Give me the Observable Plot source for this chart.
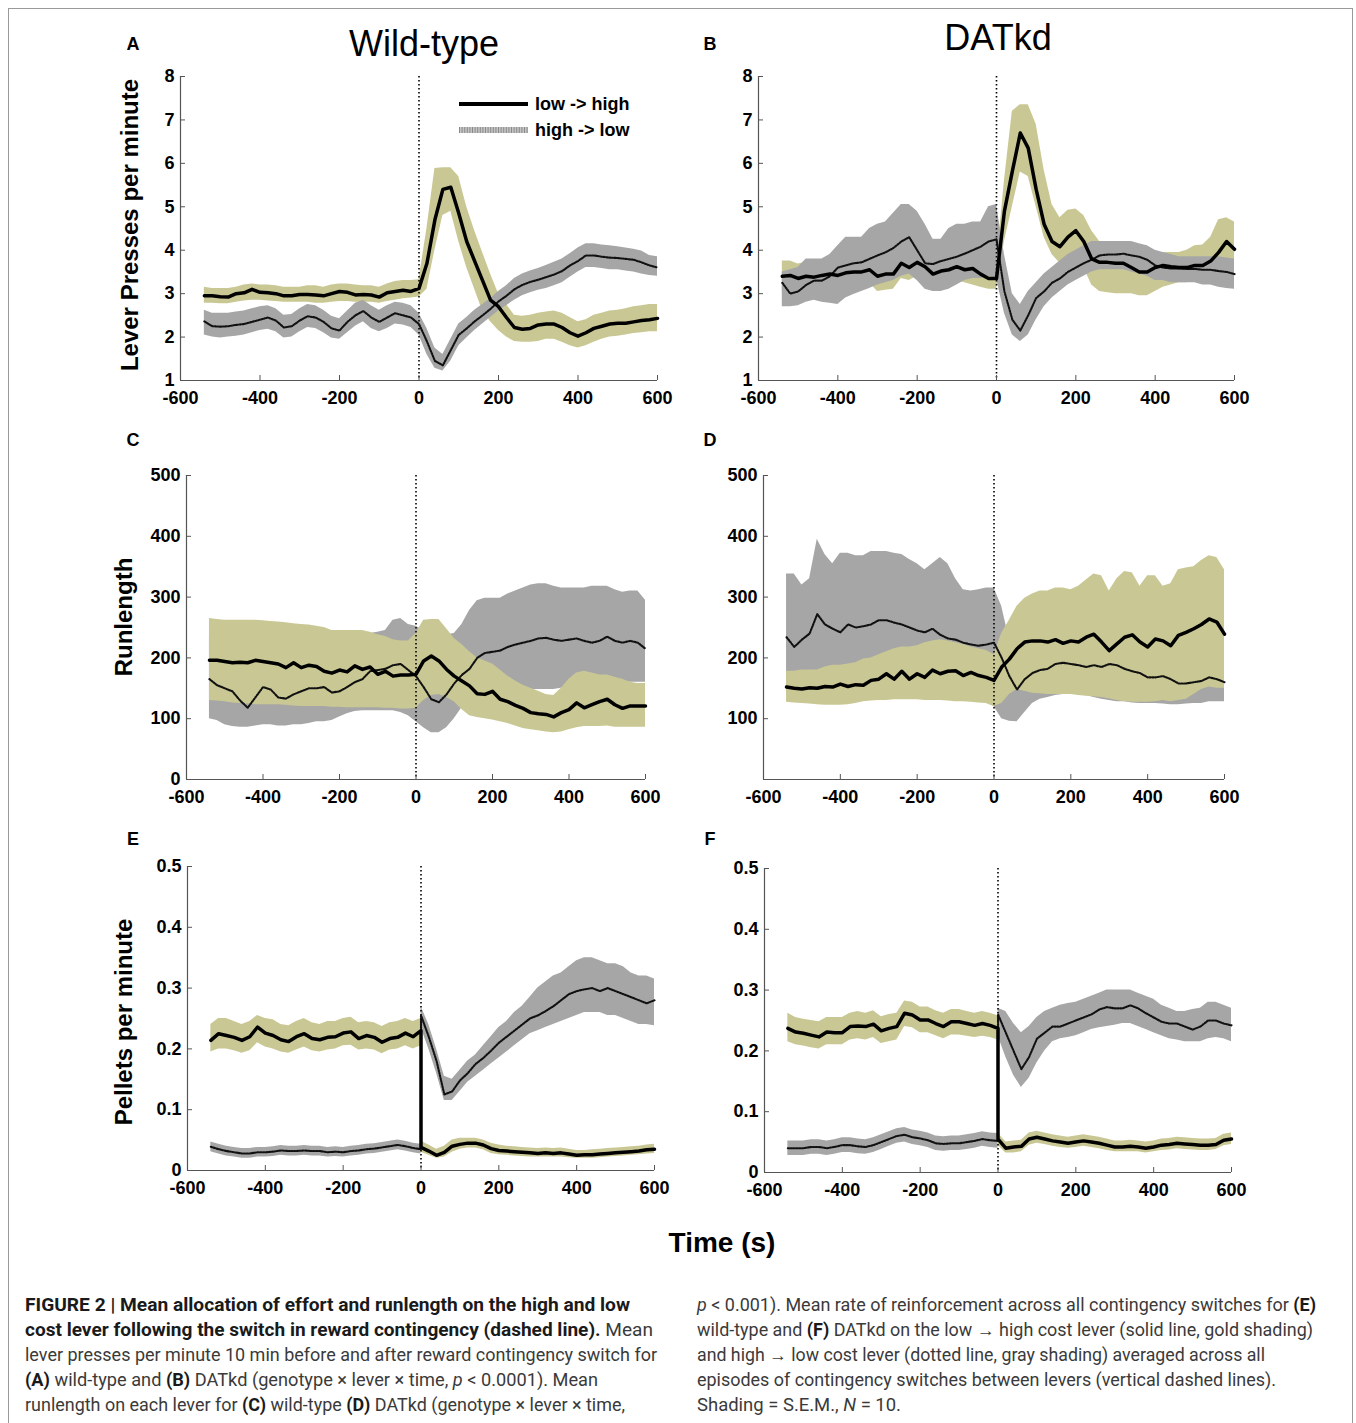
<!DOCTYPE html>
<html><head><meta charset="utf-8">
<script src="https://cdn.jsdelivr.net/npm/d3@7"></script>
<script src="https://cdn.jsdelivr.net/npm/@observablehq/plot@0.6"></script>
<style>
body{margin:0;background:#fff;}
#page{position:relative;width:1356px;height:1423px;overflow:hidden;font-family:"Liberation Sans",Arial,sans-serif;color:#000;}
.frame{position:absolute;left:8px;top:8px;width:1343px;height:1460px;border:1px solid #9a9a9a;}
.t{position:absolute;white-space:nowrap;transform:translate(-50%,-50%);line-height:1;}
.letter{font-weight:bold;font-size:18px;}
.ylab{font-weight:bold;font-size:24px;transform:translate(-50%,-50%) rotate(-90deg);}
</style></head><body><div id="page"><div class="frame"></div></div>
<script>
// ---------- time grids (s) ----------
const T = [-540,-520,-500,-480,-460,-440,-420,-400,-380,-360,
 -340,-320,-300,-280,-260,-240,-220,-200,-180,-160,
 -140,-120,-100,-80,-60,-40,-20,0,20,40,
 60,80,100,120,140,160,180,200,220,240,
 260,280,300,320,340,360,380,400,420,440,
 460,480,500,520,540,560,580,600];
// E/F: 0 appears twice (value just before / just after the switch)
const TEF = [-540,-520,-500,-480,-460,-440,-420,-400,-380,-360,
 -340,-320,-300,-280,-260,-240,-220,-200,-180,-160,
 -140,-120,-100,-80,-60,-40,-20,0,0,20,40,
 60,80,100,120,140,160,180,200,220,240,
 260,280,300,320,340,360,380,400,420,440,
 460,480,500,520,540,560,580,600];
const xTicks = [-600,-400,-200,0,200,400,600];

// ---------- A: Wild-type lever presses ----------
const aLH = [2.95,2.95,2.93,2.92,3.0,3.02,3.1,3.03,3.02,3.0,
 2.95,2.95,2.98,2.98,2.97,2.95,3.0,3.05,3.03,2.97,
 2.98,2.97,2.92,3.02,3.05,3.08,3.05,3.12,3.7,4.7,
 5.4,5.45,4.85,4.2,3.75,3.3,2.85,2.7,2.45,2.22,
 2.18,2.2,2.28,2.3,2.3,2.22,2.1,2.02,2.1,2.2,
 2.25,2.3,2.32,2.32,2.35,2.38,2.4,2.43];
const aLHlo = [2.78,2.78,2.77,2.77,2.8,2.83,2.85,2.85,2.83,2.82,
 2.8,2.8,2.8,2.8,2.78,2.78,2.8,2.82,2.82,2.8,
 2.8,2.8,2.78,2.82,2.85,2.88,2.9,2.92,3.1,4.0,
 4.8,4.9,4.2,3.6,3.1,2.6,2.35,2.15,2.0,1.9,
 1.88,1.88,1.9,1.95,1.95,1.88,1.8,1.75,1.8,1.88,
 1.95,2.0,2.02,2.05,2.08,2.1,2.12,2.12];
const aLHhi = [3.15,3.12,3.12,3.12,3.15,3.2,3.22,3.2,3.2,3.18,
 3.15,3.15,3.15,3.18,3.18,3.15,3.2,3.22,3.22,3.2,
 3.18,3.18,3.15,3.22,3.28,3.3,3.3,3.32,4.5,5.88,
 5.9,5.9,5.7,5.0,4.45,3.95,3.45,3.0,2.75,2.5,
 2.48,2.5,2.55,2.58,2.6,2.55,2.45,2.35,2.4,2.5,
 2.55,2.6,2.62,2.65,2.7,2.72,2.75,2.75];
const aHL = [2.36,2.25,2.24,2.25,2.28,2.3,2.35,2.4,2.45,2.38,
 2.22,2.25,2.38,2.48,2.45,2.35,2.2,2.15,2.35,2.5,
 2.6,2.45,2.35,2.45,2.55,2.5,2.45,2.3,1.9,1.45,
 1.35,1.7,2.05,2.2,2.36,2.5,2.65,2.82,2.95,3.1,
 3.2,3.27,3.32,3.38,3.44,3.52,3.65,3.75,3.88,3.88,
 3.85,3.83,3.82,3.8,3.78,3.72,3.65,3.6];
const aHLlo = [2.05,2.0,1.98,2.0,2.02,2.05,2.1,2.15,2.18,2.12,
 1.98,2.0,2.12,2.22,2.2,2.1,1.98,1.95,2.1,2.25,
 2.35,2.2,2.12,2.2,2.3,2.28,2.22,2.05,1.6,1.28,
 1.22,1.45,1.8,1.98,2.15,2.3,2.45,2.6,2.72,2.85,
 2.95,3.02,3.08,3.12,3.18,3.25,3.38,3.5,3.6,3.6,
 3.58,3.55,3.55,3.52,3.5,3.45,3.42,3.4];
const aHLhi = [2.62,2.55,2.55,2.55,2.58,2.6,2.65,2.7,2.72,2.65,
 2.5,2.52,2.65,2.75,2.72,2.62,2.48,2.42,2.6,2.78,
 2.85,2.72,2.62,2.72,2.8,2.78,2.72,2.55,2.2,1.75,
 1.6,1.95,2.3,2.45,2.62,2.75,2.88,3.05,3.18,3.35,
 3.45,3.52,3.58,3.65,3.72,3.8,3.92,4.05,4.15,4.15,
 4.12,4.1,4.08,4.05,4.02,3.98,3.88,3.85];

// ---------- B: DATkd lever presses ----------
const bLH = [3.4,3.42,3.35,3.4,3.38,3.42,3.45,3.42,3.48,3.5,
 3.5,3.55,3.4,3.45,3.45,3.7,3.6,3.72,3.62,3.45,
 3.52,3.55,3.62,3.55,3.58,3.45,3.35,3.35,4.9,5.82,
 6.7,6.35,5.4,4.6,4.2,4.08,4.3,4.45,4.2,3.8,
 3.72,3.72,3.7,3.7,3.6,3.5,3.5,3.6,3.65,3.62,
 3.6,3.6,3.65,3.65,3.75,3.95,4.2,4.02];
const bLHlo = [3.05,3.12,3.05,3.1,3.1,3.12,3.15,3.12,3.18,3.2,
 3.2,3.25,3.05,3.08,3.1,3.35,3.3,3.4,3.32,3.15,
 3.2,3.25,3.3,3.25,3.2,3.15,3.1,3.1,4.2,5.0,
 5.8,5.7,5.0,4.3,3.9,3.7,3.85,3.95,3.6,3.2,
 3.05,3.02,3.0,3.0,3.0,2.95,2.95,3.05,3.15,3.2,
 3.25,3.25,3.3,3.3,3.4,3.55,3.7,3.6];
const bLHhi = [3.75,3.75,3.68,3.72,3.7,3.72,3.75,3.72,3.78,3.8,
 3.82,3.88,3.75,3.8,3.8,4.05,3.95,4.05,3.95,3.78,
 3.85,3.88,3.95,3.88,3.9,3.78,3.65,3.65,5.6,7.2,
 7.35,7.35,6.9,5.85,5.05,4.75,4.92,4.95,4.8,4.45,
 4.2,4.05,4.0,4.0,4.0,4.0,3.98,3.95,3.95,3.95,
 3.95,4.0,4.1,4.12,4.3,4.7,4.75,4.65];
const bHL = [3.25,3.0,3.05,3.2,3.3,3.3,3.4,3.6,3.65,3.7,
 3.72,3.8,3.88,3.95,4.05,4.2,4.3,4.0,3.7,3.68,
 3.75,3.8,3.85,3.92,4.0,4.08,4.2,4.25,3.05,2.4,
 2.15,2.5,2.9,3.05,3.25,3.35,3.5,3.6,3.7,3.78,
 3.88,3.9,3.9,3.92,3.88,3.85,3.78,3.65,3.6,3.58,
 3.58,3.57,3.57,3.55,3.55,3.52,3.5,3.45];
const bHLlo = [2.7,2.7,2.72,2.8,2.85,2.8,2.78,2.75,2.9,2.98,
 3.05,3.12,3.2,3.25,3.3,3.4,3.45,3.3,3.1,3.05,
 3.05,3.1,3.2,3.3,3.35,3.35,3.4,3.35,2.55,2.05,
 1.9,2.05,2.4,2.7,2.9,3.05,3.2,3.3,3.4,3.5,
 3.55,3.55,3.55,3.55,3.5,3.45,3.4,3.3,3.3,3.25,
 3.25,3.25,3.25,3.2,3.2,3.15,3.12,3.1];
const bHLhi = [3.5,3.55,3.6,3.8,3.8,3.8,3.9,4.1,4.3,4.3,
 4.3,4.5,4.6,4.65,4.85,5.05,5.05,4.9,4.6,4.25,
 4.25,4.5,4.6,4.6,4.65,4.65,5.0,5.05,3.9,3.0,
 2.75,3.05,3.25,3.45,3.6,3.75,3.9,4.0,4.1,4.2,
 4.2,4.2,4.2,4.2,4.2,4.15,4.1,4.0,3.95,3.9,
 3.85,3.85,3.85,3.85,3.85,3.85,3.82,3.8];

// ---------- C: Wild-type runlength ----------
const cLH = [196,196,194,192,193,192,196,194,192,190,
 184,192,184,188,186,178,175,180,177,187,
 181,185,173,178,170,172,172,173,195,203,
 195,181,170,162,154,141,140,145,132,128,
 122,117,110,108,107,103,110,115,126,118,
 123,128,132,123,117,121,121,121];
const cLHlo = [130,129,128,126,125,124,123,123,123,123,
 122,121,120,120,120,120,119,119,118,118,
 118,118,118,117,117,116,116,117,130,138,
 140,135,128,115,105,102,100,98,95,92,
 88,84,82,80,78,77,78,82,85,87,
 87,87,88,86,86,86,86,86];
const cLHhi = [265,263,262,262,262,262,262,261,260,259,
 258,256,255,254,252,250,245,245,245,245,
 245,242,238,235,230,228,228,240,262,263,
 263,248,232,222,210,200,195,190,180,170,
 162,155,150,145,140,138,150,165,175,178,
 175,172,172,168,165,160,158,158];
const cHL = [165,155,150,145,130,118,135,152,148,135,
 133,140,145,150,150,152,143,145,152,160,
 165,178,180,182,188,190,180,170,152,132,
 127,140,158,172,182,200,208,210,212,218,
 222,225,228,232,233,230,228,230,232,228,
 225,228,235,228,225,228,225,215];
const cHLlo = [100,97,90,87,86,86,88,90,90,88,
 88,90,90,92,95,95,97,103,108,112,
 113,113,113,113,113,110,105,95,85,77,
 77,85,100,118,130,140,143,145,145,146,
 147,147,148,148,148,148,150,155,160,160,
 160,160,160,160,160,160,160,160];
const cHLhi = [232,228,225,220,215,215,215,216,218,216,
 215,215,215,216,220,222,225,230,235,237,
 238,240,242,245,262,265,255,252,245,240,
 238,238,240,255,278,294,298,298,298,305,
 310,315,320,322,322,318,315,315,315,315,
 318,318,318,312,308,310,310,295];

// ---------- D: DATkd runlength ----------
const dLH = [152,150,149,151,150,153,152,157,153,156,
 155,163,165,174,165,178,165,174,168,180,
 174,178,179,171,176,171,168,163,185,198,
 215,226,228,228,226,230,224,228,226,234,
 239,226,212,223,234,238,226,218,231,228,
 220,237,242,248,255,264,259,239];
const dLHlo = [127,126,125,124,123,122,122,122,123,125,
 128,129,130,130,131,131,131,131,130,130,
 130,129,128,128,127,126,125,120,125,140,
 148,145,142,141,140,140,140,140,138,137,
 136,135,133,130,128,127,127,127,128,130,
 128,130,132,140,148,152,150,150];
const dLHhi = [178,178,180,180,180,185,188,188,190,192,
 198,200,205,210,215,218,218,220,225,228,
 230,228,225,222,218,215,212,205,240,262,
 285,298,305,310,310,315,315,312,318,328,
 338,335,310,330,342,340,318,335,335,318,
 322,345,348,350,360,368,365,345];
const dHL = [234,218,230,240,272,255,248,242,255,250,
 252,255,262,262,258,255,250,245,242,248,
 238,232,230,225,222,220,222,225,200,170,
 148,165,175,180,182,190,192,190,188,185,
 188,185,190,188,182,178,175,168,168,170,
 165,158,158,160,162,168,165,160];
const dHLlo = [138,138,137,136,136,135,135,135,135,135,
 136,136,137,137,137,137,137,137,136,136,
 135,135,134,133,132,130,126,120,100,96,
 95,110,125,132,135,138,140,140,140,138,
 135,132,130,128,128,126,125,125,125,124,
 123,123,124,125,125,128,128,128];
const dHLhi = [338,338,320,330,395,370,355,372,372,368,
 368,375,375,375,372,370,362,355,345,355,
 365,355,330,312,310,312,315,315,285,230,
 190,200,210,215,218,225,228,226,224,222,
 224,222,226,224,218,214,212,205,205,206,
 200,195,195,196,198,205,202,198];

// ---------- E: Wild-type pellets ----------
const eLH = [0.214,0.225,0.222,0.219,0.214,0.220,0.236,0.226,0.222,0.215,
 0.212,0.220,0.225,0.217,0.215,0.219,0.220,0.226,0.228,0.217,
 0.222,0.219,0.211,0.217,0.219,0.226,0.220,0.230,0.038,0.032,0.025,
 0.030,0.040,0.043,0.045,0.045,0.042,0.036,0.033,0.032,0.031,
 0.030,0.029,0.028,0.029,0.028,0.029,0.027,0.025,0.026,0.026,
 0.027,0.028,0.029,0.030,0.031,0.032,0.034,0.035];
const eLHlo = [0.195,0.2,0.2,0.197,0.193,0.197,0.21,0.203,0.2,0.195,
 0.193,0.198,0.203,0.197,0.195,0.198,0.2,0.205,0.206,0.198,
 0.2,0.198,0.192,0.198,0.2,0.205,0.2,0.205,0.03,0.025,0.02,
 0.022,0.03,0.035,0.037,0.037,0.034,0.028,0.026,0.025,0.024,
 0.023,0.022,0.022,0.022,0.022,0.022,0.021,0.02,0.02,0.02,
 0.021,0.022,0.023,0.024,0.025,0.026,0.027,0.028];
const eLHhi = [0.24,0.25,0.25,0.245,0.24,0.245,0.255,0.25,0.248,0.24,
 0.238,0.245,0.25,0.243,0.24,0.245,0.245,0.25,0.252,0.243,
 0.245,0.243,0.237,0.243,0.245,0.25,0.245,0.25,0.048,0.042,0.035,
 0.04,0.05,0.053,0.053,0.053,0.05,0.045,0.042,0.04,0.039,
 0.038,0.037,0.036,0.037,0.036,0.037,0.035,0.033,0.033,0.034,
 0.035,0.036,0.037,0.038,0.039,0.04,0.042,0.043];
const eHL = [0.039,0.035,0.032,0.030,0.028,0.028,0.030,0.030,0.031,0.033,
 0.032,0.032,0.033,0.032,0.032,0.030,0.031,0.030,0.032,0.033,
 0.035,0.036,0.038,0.040,0.042,0.040,0.037,0.035,0.255,0.220,0.180,
 0.125,0.130,0.148,0.160,0.175,0.185,0.197,0.210,0.220,0.230,
 0.240,0.250,0.255,0.262,0.270,0.280,0.290,0.295,0.298,0.300,
 0.295,0.300,0.295,0.290,0.285,0.280,0.275,0.280];
const eHLlo = [0.031,0.027,0.024,0.022,0.02,0.02,0.022,0.022,0.023,0.025,
 0.024,0.024,0.025,0.024,0.024,0.022,0.023,0.022,0.024,0.025,
 0.027,0.028,0.03,0.032,0.034,0.032,0.029,0.027,0.235,0.2,0.16,
 0.115,0.115,0.13,0.145,0.155,0.165,0.175,0.185,0.195,0.205,
 0.215,0.225,0.23,0.235,0.24,0.245,0.25,0.255,0.26,0.26,
 0.26,0.255,0.255,0.25,0.245,0.24,0.24,0.238];
const eHLhi = [0.047,0.043,0.04,0.038,0.036,0.036,0.038,0.038,0.039,0.041,
 0.04,0.04,0.041,0.04,0.04,0.038,0.039,0.038,0.04,0.041,
 0.043,0.044,0.046,0.048,0.05,0.048,0.045,0.043,0.27,0.24,0.2,
 0.155,0.15,0.165,0.18,0.19,0.205,0.22,0.235,0.245,0.26,
 0.27,0.285,0.3,0.31,0.32,0.325,0.335,0.345,0.35,0.35,
 0.345,0.34,0.34,0.335,0.325,0.32,0.32,0.315];

// ---------- F: DATkd pellets ----------
const fLH = [0.237,0.231,0.229,0.226,0.223,0.231,0.230,0.230,0.240,0.241,
 0.240,0.244,0.233,0.237,0.240,0.262,0.259,0.251,0.251,0.245,
 0.240,0.248,0.248,0.245,0.242,0.245,0.242,0.237,0.055,0.040,0.042,
 0.043,0.055,0.058,0.055,0.052,0.050,0.048,0.050,0.052,0.050,
 0.048,0.045,0.042,0.042,0.043,0.042,0.040,0.042,0.045,0.046,
 0.048,0.047,0.046,0.045,0.045,0.046,0.053,0.055];
const fLHlo = [0.215,0.21,0.208,0.205,0.203,0.21,0.21,0.21,0.218,0.22,
 0.218,0.222,0.212,0.215,0.218,0.24,0.238,0.23,0.23,0.225,
 0.22,0.226,0.226,0.224,0.222,0.224,0.222,0.218,0.045,0.032,0.032,
 0.034,0.045,0.048,0.046,0.043,0.041,0.04,0.041,0.043,0.041,
 0.039,0.036,0.034,0.034,0.034,0.034,0.032,0.034,0.036,0.037,
 0.039,0.038,0.037,0.036,0.036,0.038,0.044,0.046];
const fLHhi = [0.262,0.255,0.252,0.25,0.248,0.255,0.255,0.255,0.262,0.265,
 0.262,0.266,0.256,0.26,0.262,0.282,0.28,0.272,0.272,0.266,
 0.262,0.268,0.268,0.265,0.262,0.265,0.262,0.258,0.065,0.05,0.052,
 0.053,0.065,0.068,0.065,0.062,0.06,0.058,0.06,0.062,0.06,
 0.058,0.055,0.052,0.052,0.053,0.052,0.05,0.052,0.055,0.056,
 0.058,0.057,0.056,0.055,0.055,0.056,0.063,0.065];
const fHL = [0.040,0.040,0.040,0.042,0.042,0.040,0.042,0.045,0.045,0.043,
 0.042,0.045,0.050,0.055,0.060,0.062,0.058,0.056,0.053,0.048,
 0.047,0.048,0.048,0.050,0.052,0.055,0.053,0.052,0.260,0.230,0.200,
 0.170,0.190,0.220,0.230,0.240,0.240,0.245,0.250,0.255,0.260,
 0.268,0.272,0.270,0.270,0.275,0.270,0.262,0.255,0.248,0.245,
 0.245,0.240,0.235,0.240,0.250,0.250,0.245,0.242];
const fHLlo = [0.028,0.028,0.028,0.03,0.03,0.028,0.03,0.033,0.033,0.031,
 0.03,0.033,0.038,0.043,0.048,0.05,0.046,0.044,0.041,0.036,
 0.035,0.036,0.036,0.038,0.04,0.043,0.041,0.04,0.225,0.19,0.16,
 0.14,0.155,0.18,0.2,0.215,0.22,0.222,0.225,0.23,0.235,
 0.238,0.24,0.242,0.245,0.245,0.24,0.235,0.23,0.225,0.22,
 0.218,0.215,0.215,0.215,0.22,0.222,0.22,0.215];
const fHLhi = [0.052,0.052,0.052,0.054,0.054,0.052,0.054,0.057,0.057,0.055,
 0.054,0.057,0.062,0.067,0.072,0.074,0.07,0.068,0.065,0.06,
 0.059,0.06,0.06,0.062,0.064,0.067,0.065,0.064,0.27,0.265,0.245,
 0.23,0.24,0.255,0.265,0.27,0.275,0.278,0.28,0.285,0.29,
 0.295,0.3,0.3,0.3,0.3,0.295,0.29,0.285,0.275,0.27,
 0.265,0.265,0.268,0.27,0.28,0.28,0.275,0.27];

// ---------- tick labels ----------
const yTicksAB = [1,2,3,4,5,6,7,8];
const yTicksC = [0,100,200,300,400,500];
const yTicksD = [100,200,300,400,500];
const yTicksEF = [0,0.1,0.2,0.3,0.4,0.5];

// ---------- drawing ----------
const GOLD = "#c9c894", GRAY = "#a6a6a6";
const ML = 60, MR = 45, MT = 20, MB = 40;
const page = document.getElementById("page");
const problems = [];

function panel(p) {
  const rows = (m, lo, hi, name) => {
    if (m.length !== p.time.length || lo.length !== p.time.length || hi.length !== p.time.length)
      problems.push(p.name + " " + name + " " + m.length + "/" + lo.length + "/" + hi.length + " vs " + p.time.length);
    return p.time.map((t, i) => ({t, m: m[i], lo: lo[i], hi: hi[i]}));
  };
  const lh = rows(p.lh, p.lhLo, p.lhHi, "lh");
  const hl = rows(p.hl, p.hlLo, p.hlHi, "hl");
  const goldBand = Plot.areaY(lh, {x: "t", y1: "lo", y2: "hi", fill: GOLD});
  const grayBand = Plot.areaY(hl, {x: "t", y1: "lo", y2: "hi", fill: GRAY});
  const bands = p.grayOnTop ? [goldBand, grayBand] : [grayBand, goldBand];
  const fmt = d => String(d);
  const svg = Plot.plot({
    width: p.x1 - p.x0 + ML + MR,
    height: p.yBot - p.yTop + MT + MB,
    marginLeft: ML, marginRight: MR, marginTop: MT, marginBottom: MB,
    x: {domain: [-600, 600], label: null},
    y: {domain: p.yDomain, label: null},
    style: {background: "transparent", fontFamily: "'Liberation Sans', Arial, sans-serif",
            fontSize: "18px", fontWeight: "bold", color: "#000", overflow: "visible"},
    marks: [
      ...bands,
      Plot.ruleX([0], {stroke: "#000", strokeWidth: 1.6, strokeDasharray: "1.6,2.4"}),
      Plot.line(hl, {x: "t", y: "m", stroke: "#111", strokeWidth: 2.1, strokeDasharray: "1.4,1.4"}),
      Plot.line(lh, {x: "t", y: "m", stroke: "#000", strokeWidth: 3.5}),
      Plot.ruleY([p.yDomain[0]], {stroke: "#555", strokeWidth: 1.2}),
      Plot.ruleX([-600], {stroke: "#555", strokeWidth: 1.2}),
      Plot.axisX({ticks: xTicks, tickFormat: fmt, tickSize: -5, tickPadding: 16, stroke: "#555", label: null}),
      Plot.axisY({ticks: p.yTicks, tickFormat: fmt, tickSize: -5, tickPadding: 11, stroke: "#555", label: null})
    ]
  });
  svg.style.position = "absolute";
  svg.style.left = (p.x0 - ML) + "px";
  svg.style.top = (p.yTop - MT) + "px";
  page.appendChild(svg);
}

panel({name: "A", time: T, x0: 180, x1: 657, yTop: 76, yBot: 380, yDomain: [1, 8], yTicks: yTicksAB,
  lh: aLH, lhLo: aLHlo, lhHi: aLHhi, hl: aHL, hlLo: aHLlo, hlHi: aHLhi, grayOnTop: true});
panel({name: "B", time: T, x0: 758, x1: 1234, yTop: 76, yBot: 380, yDomain: [1, 8], yTicks: yTicksAB,
  lh: bLH, lhLo: bLHlo, lhHi: bLHhi, hl: bHL, hlLo: bHLlo, hlHi: bHLhi, grayOnTop: true});
panel({name: "C", time: T, x0: 186, x1: 645, yTop: 475, yBot: 779, yDomain: [0, 500], yTicks: yTicksC,
  lh: cLH, lhLo: cLHlo, lhHi: cLHhi, hl: cHL, hlLo: cHLlo, hlHi: cHLhi, grayOnTop: false});
panel({name: "D", time: T, x0: 763, x1: 1224, yTop: 475, yBot: 779, yDomain: [0, 500], yTicks: yTicksD,
  lh: dLH, lhLo: dLHlo, lhHi: dLHhi, hl: dHL, hlLo: dHLlo, hlHi: dHLhi, grayOnTop: false});
panel({name: "E", time: TEF, x0: 187, x1: 654, yTop: 866, yBot: 1170, yDomain: [0, 0.5], yTicks: yTicksEF,
  lh: eLH, lhLo: eLHlo, lhHi: eLHhi, hl: eHL, hlLo: eHLlo, hlHi: eHLhi, grayOnTop: true});
panel({name: "F", time: TEF, x0: 764, x1: 1231, yTop: 868, yBot: 1172, yDomain: [0, 0.5], yTicks: yTicksEF,
  lh: fLH, lhLo: fLHlo, lhHi: fLHhi, hl: fHL, hlLo: fHLlo, hlHi: fHLhi, grayOnTop: true});

// ---------- text ----------
function label(text, cls, x, y, extra) {
  const d = document.createElement("div");
  d.className = "t " + cls;
  d.textContent = text;
  d.style.left = x + "px"; d.style.top = y + "px";
  if (extra) Object.assign(d.style, extra);
  page.appendChild(d);
}
label("Wild-type", "", 424, 44, {fontSize: "36px"});
label("DATkd", "", 998, 38, {fontSize: "36px"});
[["A",133,44],["B",710,44],["C",133,440],["D",710,440],["E",133,839],["F",710,839]]
  .forEach(([l,x,y]) => label(l, "letter", x, y));
label("Lever Presses per minute", "ylab", 130, 225);
label("Runlength", "ylab", 124, 617);
label("Pellets per minute", "ylab", 124, 1022);
label("Time (s)", "", 722, 1243, {fontSize: "28px", fontWeight: "bold"});

// legend (panel A)
const NS = "http://www.w3.org/2000/svg";
const leg = document.createElementNS(NS, "svg");
leg.setAttribute("width", 200); leg.setAttribute("height", 56);
Object.assign(leg.style, {position: "absolute", left: "455px", top: "90px"});
leg.innerHTML = `
 <line x1="4" x2="73" y1="14" y2="14" stroke="#000" stroke-width="4"/>
 <line x1="4" x2="73" y1="40" y2="40" stroke="#c4c4c4" stroke-width="6"/>
 <line x1="4" x2="73" y1="40" y2="40" stroke="#8a8a8a" stroke-width="6" stroke-dasharray="1,1.6"/>
 <text x="80" y="14" dominant-baseline="central" font-family="'Liberation Sans',Arial,sans-serif" font-weight="bold" font-size="18">low -&gt; high</text>
 <text x="80" y="40" dominant-baseline="central" font-family="'Liberation Sans',Arial,sans-serif" font-weight="bold" font-size="18">high -&gt; low</text>`;
page.appendChild(leg);

// caption
const capLeft = [
  [[["FIGURE 2 | Mean allocation of effort and runlength on the high and low","b"]], 605],
  [[["cost lever following the switch in reward contingency (dashed line).","b"],[" Mean",""]], 628],
  [[["lever presses per minute 10 min before and after reward contingency switch for",""]], 632],
  [[["(A)","b"],[" wild-type and ",""],["(B)","b"],[" DATkd (genotype × lever × time, ",""],["p","i"],[" < 0.0001). Mean",""]], 573],
  [[["runlength on each lever for ",""],["(C)","b"],[" wild-type ",""],["(D)","b"],[" DATkd (genotype × lever × time,",""]], 600]
];
const capRight = [
  [[["p","i"],[" < 0.001). Mean rate of reinforcement across all contingency switches for ",""],["(E)","b"]], 619],
  [[["wild-type and ",""],["(F)","b"],[" DATkd on the low → high cost lever (solid line, gold shading)",""]], 616],
  [[["and high → low cost lever (dotted line, gray shading) averaged across all",""]], 568],
  [[["episodes of contingency switches between levers (vertical dashed lines).",""]], 579],
  [[["Shading = S.E.M., ",""],["N","i"],[" = 10.",""]], 204]
];
const cap = document.createElementNS(NS, "svg");
cap.setAttribute("width", 1356); cap.setAttribute("height", 140);
Object.assign(cap.style, {position: "absolute", left: "0px", top: "1285px"});
function capLines(lines, x0) {
  lines.forEach(([segs, w], i) => {
    const t = document.createElementNS(NS, "text");
    t.setAttribute("x", x0); t.setAttribute("y", 26 + i * 25);
    t.setAttribute("textLength", w); t.setAttribute("lengthAdjust", "spacingAndGlyphs");
    t.setAttribute("font-family", "Roboto, 'Liberation Sans', Arial, sans-serif");
    t.setAttribute("font-size", "17.5");
    t.setAttribute("fill", "#3a3a3a");
    segs.forEach(([s, st]) => {
      const ts = document.createElementNS(NS, "tspan");
      ts.textContent = s;
      if (st === "b") { ts.setAttribute("font-weight", "bold"); ts.setAttribute("fill", "#1a1a1a"); }
      if (st === "i") ts.setAttribute("font-style", "italic");
      t.appendChild(ts);
    });
    cap.appendChild(t);
  });
}
capLines(capLeft, 25);
capLines(capRight, 697);
page.appendChild(cap);

if (problems.length) label(problems.join(" | "), "", 678, 10, {color: "red", fontSize: "12px", transform: "translate(-50%,0)"});
</script></body></html>
